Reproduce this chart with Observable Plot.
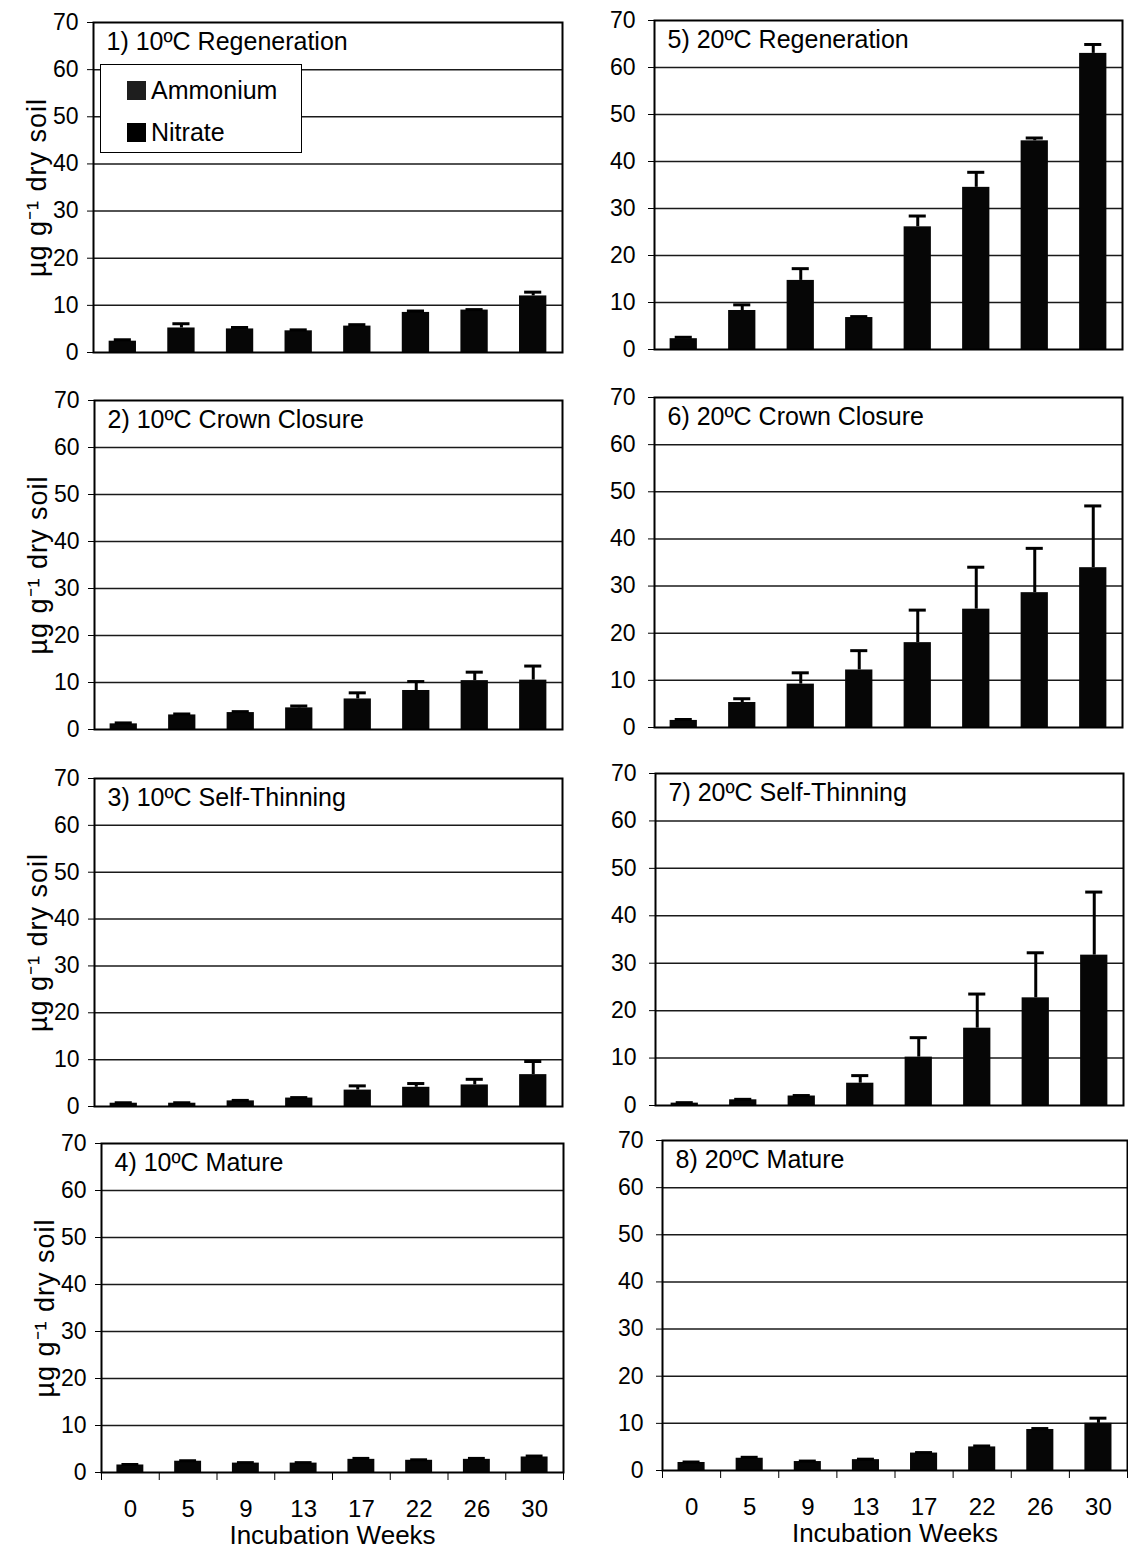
<!DOCTYPE html>
<html>
<head>
<meta charset="utf-8">
<script src="https://cdn.jsdelivr.net/npm/d3@7"></script>
<script src="https://cdn.jsdelivr.net/npm/@observablehq/plot@0.6"></script>
<style>
  body { margin: 0; background: #fff; }
  #chart { position: relative; width: 1128px; height: 1553px; background: #fff;
           font-family: "Liberation Sans", Arial, sans-serif; color: #000; }
  .panel { position: absolute; }
  .panel svg { overflow: visible; }
  .legend { position: absolute; left: 100px; top: 64px; width: 200px; height: 87px;
            border: 1.5px solid #000; background: #fff; }
  .legend .item { position: absolute; left: 26px; display: flex; align-items: center;
                  font-size: 25px; line-height: 1; }
  .legend .swatch { width: 19px; height: 19px; margin-right: 5px; }
</style>
</head>
<body>
<div id="chart"></div>
<script>
// Incubation weeks (x categories)
const weeks = ["0", "5", "9", "13", "17", "22", "26", "30"];

// Inorganic N (µg g-1 dry soil), means and standard errors per stand type
const regen10      = [2.4, 5.2, 5.0, 4.6, 5.6, 8.5, 9.0, 12.0];
const regen10Err   = [0.3, 0.9, 0.3, 0.2, 0.3, 0.3, 0.1, 0.8];
const crown10      = [1.2, 3.1, 3.6, 4.6, 6.5, 8.3, 10.4, 10.5];
const crown10Err   = [0.2, 0.2, 0.2, 0.4, 1.3, 1.9, 1.8, 3.0];
const thin10       = [0.7, 0.7, 1.2, 1.8, 3.5, 4.1, 4.6, 6.8];
const thin10Err    = [0.1, 0.1, 0.1, 0.1, 0.9, 0.8, 1.2, 2.8];
const mature10     = [1.6, 2.4, 2.0, 2.0, 2.8, 2.6, 2.8, 3.3];
const mature10Err  = [0.1, 0.1, 0.1, 0.1, 0.2, 0.1, 0.2, 0.2];

const regen20      = [2.3, 8.3, 14.7, 6.8, 26.1, 34.5, 44.4, 63.0];
const regen20Err   = [0.3, 1.2, 2.5, 0.2, 2.3, 3.2, 0.6, 1.9];
const crown20      = [1.5, 5.3, 9.2, 12.2, 18.0, 25.1, 28.6, 33.9];
const crown20Err   = [0.2, 0.8, 2.4, 4.1, 6.9, 8.9, 9.4, 13.1];
const thin20       = [0.5, 1.2, 2.0, 4.7, 10.2, 16.3, 22.7, 31.7];
const thin20Err    = [0.1, 0.1, 0.1, 1.6, 4.1, 7.2, 9.5, 13.3];
const mature20     = [1.7, 2.6, 1.9, 2.3, 3.7, 5.0, 8.7, 10.0];
const mature20Err  = [0.1, 0.2, 0.1, 0.1, 0.1, 0.2, 0.2, 1.1];

// Panel titles
const titles = [
  "1) 10ºC Regeneration", "2) 10ºC Crown Closure", "3) 10ºC Self-Thinning", "4) 10ºC Mature",
  "5) 20ºC Regeneration", "6) 20ºC Crown Closure", "7) 20ºC Self-Thinning", "8) 20ºC Mature"
];
const yTicks = [0, 10, 20, 30, 40, 50, 60, 70];
const yLabel = "µg g⁻¹ dry soil";
const xLabel = "Incubation Weeks";
const legendItems = ["Ammonium", "Nitrate"];
const legendColors = ["#1e1e1e", "#000"];

const series = [
  [regen10, regen10Err], [crown10, crown10Err], [thin10, thin10Err], [mature10, mature10Err],
  [regen20, regen20Err], [crown20, crown20Err], [thin20, thin20Err], [mature20, mature20Err]
];

// Frame boxes [left, right, top, bottom] in page pixels, per column and row
const frameBoxes = [
  [[93, 562, 22, 352], [94, 562, 400, 729], [94, 562, 778, 1106], [101, 563, 1143, 1472]],
  [[654, 1122, 20, 349], [654, 1122, 397, 727], [655, 1123, 773, 1105], [662, 1127, 1140, 1470]]
];
const pageW = 1128, pageH = 1553;
const barHalf = 0.233, capHalf = 0.146;

const chart = document.getElementById("chart");

series.forEach(([values, errors], k) => {
  const col = k < 4 ? 0 : 1;
  const row = k % 4;
  const [fl, fr, ft, fb] = frameBoxes[col][row];
  const bottomRow = row === 3;
  const svgLeft = col === 0 ? 0 : 566;
  const svgRight = col === 0 ? 566 : pageW;
  const mTop = 20;
  const mBottom = bottomRow ? pageH - fb : 20;
  const rows = weeks.map((w, i) => ({i, week: w, value: values[i], err: errors[i]}));

  const marks = [
    Plot.gridY(yTicks.slice(1, -1), {stroke: "#1a1a1a", strokeOpacity: 1, strokeWidth: 1.5}),
    Plot.rectY(rows, {
      x1: d => d.i + 0.5 - barHalf, x2: d => d.i + 0.5 + barHalf,
      y1: 0, y2: "value", fill: "#060606"
    }),
    Plot.ruleX(rows, {x: d => d.i + 0.5, y1: "value", y2: d => d.value + d.err, stroke: "#000", strokeWidth: 3}),
    Plot.ruleY(rows, {
      y: d => d.value + d.err, x1: d => d.i + 0.5 - capHalf, x2: d => d.i + 0.5 + capHalf,
      stroke: "#000", strokeWidth: 3
    }),
    Plot.axisY({ticks: yTicks, tickSize: 6, tickPadding: col === 0 ? 9 : 13, label: null, fontSize: 23}),
    Plot.frame({stroke: "#000", strokeWidth: 2}),
    Plot.text([titles[k]], {frameAnchor: "top-left", dx: 13, dy: 10, lineAnchor: "top", fontSize: 25, text: d => d})
  ];
  if (col === 0) {
    marks.push(Plot.text([yLabel], {
      frameAnchor: "left", dx: -56, rotate: -90, textAnchor: "middle", lineAnchor: "middle",
      fontSize: 27, text: d => d
    }));
  }
  if (bottomRow) {
    // boundary tick marks between weeks
    marks.push(Plot.axisX({ticks: d3.range(0, weeks.length + 1), tickSize: 8, tickFormat: () => "", label: null}));
    // week labels centred under each bar
    marks.push(Plot.axisX({
      ticks: weeks.map((w, i) => i + 0.5), tickSize: 0, tickPadding: 27,
      tickFormat: d => weeks[Math.floor(d)], label: null, fontSize: 24
    }));
    marks.push(Plot.text([xLabel], {frameAnchor: "bottom", dy: 71, lineAnchor: "bottom", fontSize: 26, text: d => d}));
  }

  const svg = Plot.plot({
    width: svgRight - svgLeft,
    height: (fb - ft) + mTop + mBottom,
    marginLeft: fl - svgLeft,
    marginRight: svgRight - fr,
    marginTop: mTop,
    marginBottom: mBottom,
    x: {domain: [0, weeks.length], axis: bottomRow ? undefined : null},
    y: {domain: [0, 70]},
    style: {fontSize: "22px", fontFamily: "'Liberation Sans', Arial, sans-serif", color: "#000", background: "transparent", overflow: "visible"},
    marks
  });
  // slightly widen the rotated axis title
  d3.select(svg).selectAll("text").filter(function () { return this.textContent === yLabel; })
    .style("letter-spacing", "1px");
  const wrap = document.createElement("div");
  wrap.className = "panel";
  wrap.style.left = svgLeft + "px";
  wrap.style.top = (ft - mTop) + "px";
  wrap.appendChild(svg);
  chart.appendChild(wrap);
});

// Legend box inside panel 1
const legend = document.createElement("div");
legend.className = "legend";
legendItems.forEach((name, i) => {
  const item = document.createElement("div");
  item.className = "item";
  item.style.top = (i === 0 ? 13 : 55) + "px";
  const sw = document.createElement("span");
  sw.className = "swatch";
  sw.style.background = legendColors[i];
  const label = document.createElement("span");
  label.textContent = name;
  item.appendChild(sw);
  item.appendChild(label);
  legend.appendChild(item);
});
chart.appendChild(legend);
</script>
</body>
</html>
